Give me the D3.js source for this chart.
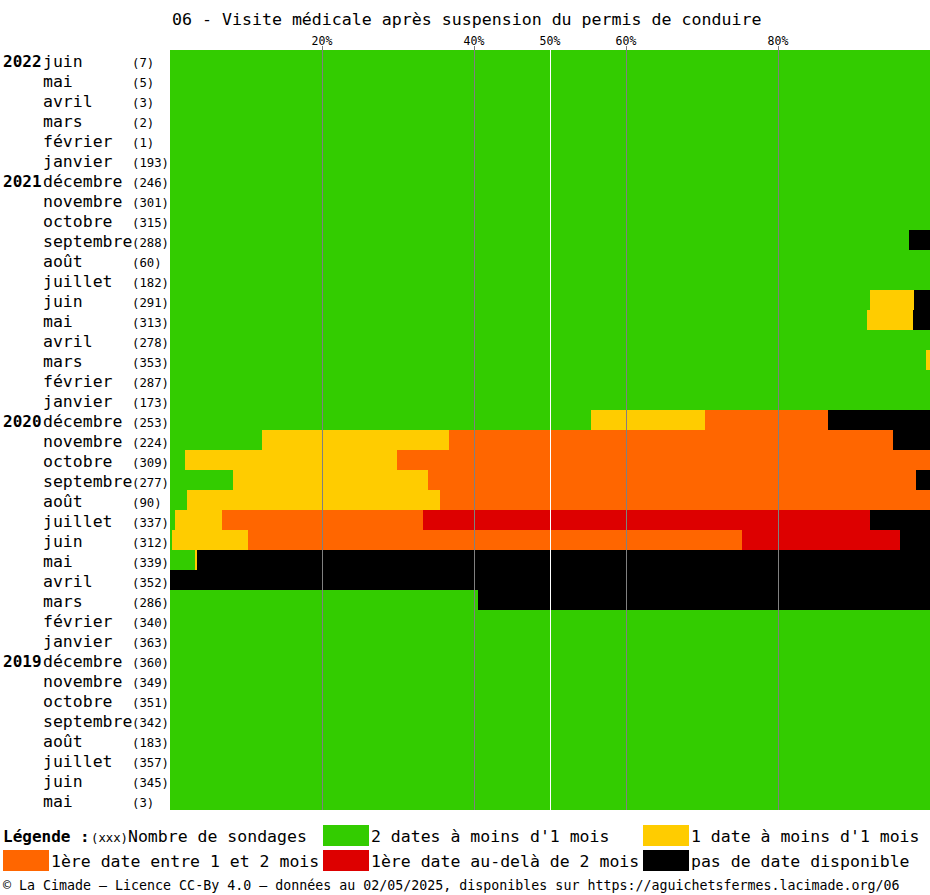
<!DOCTYPE html>
<html><head><meta charset="utf-8">
<script src="https://cdn.jsdelivr.net/npm/d3@7"></script>
<style>body{margin:0;background:#fff}svg{display:block}text{font-family:"DejaVu Sans Mono",monospace}</style>
</head><body>
<script>
const title = "06 - Visite médicale après suspension du permis de conduire";
const months = ["juin","mai","avril","mars","février","janvier",
  "décembre","novembre","octobre","septembre","août","juillet","juin","mai","avril","mars","février","janvier",
  "décembre","novembre","octobre","septembre","août","juillet","juin","mai","avril","mars","février","janvier",
  "décembre","novembre","octobre","septembre","août","juillet","juin","mai"];
const years = ["2022","","","","","","2021","","","","","","","","","","","","2020","","","","","","","","","","","","2019","","","","","","",""];
const counts = [7,5,3,2,1,193,246,301,315,288,60,182,291,313,278,353,287,173,253,224,309,277,90,337,312,339,352,286,340,363,360,349,351,342,183,357,345,3];
// percentages per category
const green  = [100,100,100,100,100,100,100,100,100,97.2,100,100,92.1,91.7,100,99.5,100,100,55.4,12.1,2.0,8.3,2.2,0.7,0.3,3.3,0,40.5,100,100,100,100,100,100,100,100,100,100];
const yellow = [0,0,0,0,0,0,0,0,0,0,0,0,5.8,6.1,0,0.5,0,0,15.0,24.6,27.9,25.7,33.3,6.2,10.0,0.3,0,0,0,0,0,0,0,0,0,0,0,0];
const orange = [0,0,0,0,0,0,0,0,0,0,0,0,0,0,0,0,0,0,16.2,58.4,70.1,64.2,64.5,26.4,65.0,0,0,0,0,0,0,0,0,0,0,0,0,0];
const red    = [0,0,0,0,0,0,0,0,0,0,0,0,0,0,0,0,0,0,0,0,0,0,0,58.8,20.8,0,0,0,0,0,0,0,0,0,0,0,0,0];
const black  = [0,0,0,0,0,0,0,0,0,2.8,0,0,2.1,2.2,0,0,0,0,13.4,4.9,0,1.8,0,7.9,3.9,96.4,100,59.5,0,0,0,0,0,0,0,0,0,0];
const ticks = [20,40,50,60,80];
const keys = ["green","yellow","orange","red","black"];
const colors = ["#33cc00","#ffcc00","#ff6600","#dd0000","#000000"];
const legendLabels = ["2 dates à moins d'1 mois","1 date à moins d'1 mois","1ère date entre 1 et 2 mois","1ère date au-delà de 2 mois","pas de date disponible"];
const footer = "© La Cimade — Licence CC-By 4.0 — données au 02/05/2025, disponibles sur https://aguichetsfermes.lacimade.org/06";

const W = 930, H = 895;
const svg = d3.select("body").append("svg").attr("width", W).attr("height", H);
const rows = months.map((m, i) => ({i, green: green[i], yellow: yellow[i], orange: orange[i], red: red[i], black: black[i]}));
const x = d3.scaleLinear().domain([0, 100]).range([170, 930]);
const y = d3.scaleBand().domain(d3.range(months.length)).range([50, 810]).padding(0);

svg.append("text").attr("x", 172).attr("y", 25).attr("font-size", 16.6).attr("fill", "#000").text(title);

const stack = d3.stack().keys(keys)(rows);
svg.append("g").selectAll("g").data(stack).join("g")
  .attr("fill", (d, k) => colors[k])
  .selectAll("rect").data(d => d).join("rect")
  .attr("x", d => x(d[0])).attr("y", (d, i) => y(i))
  .attr("width", d => Math.max(0, x(d[1]) - x(d[0]))).attr("height", y.bandwidth())
  .attr("shape-rendering", "crispEdges");

// grid lines
const g = svg.append("g");
g.selectAll("line").data(ticks).join("line")
  .attr("x1", d => Math.round(x(d)) + 0.5).attr("x2", d => Math.round(x(d)) + 0.5)
  .attr("y1", 46).attr("y2", 810)
  .attr("stroke", d => d === 50 ? "#ffffff" : "#808080").attr("stroke-width", 1);
g.selectAll("text").data(ticks).join("text")
  .attr("x", d => x(d)).attr("y", 45).attr("text-anchor", "middle")
  .attr("font-size", 11.5).text(d => d + "%");

// row labels
const lab = svg.append("g");
lab.selectAll("text.yr").data(years).join("text").attr("class", "yr")
  .attr("x", 3).attr("y", (d, i) => y(i) + 16.5).attr("font-size", 16).attr("font-weight", "bold").text(d => d);
lab.selectAll("text.mo").data(months).join("text").attr("class", "mo")
  .attr("x", 43).attr("y", (d, i) => y(i) + 16.5).attr("font-size", 16.5).text(d => d);
lab.selectAll("text.ct").data(counts).join("text").attr("class", "ct")
  .attr("x", 132).attr("y", (d, i) => y(i) + 16.5).attr("font-size", 12.3).text(d => "(" + d + ")");

// legend
const leg = svg.append("g");
leg.append("text").attr("x", 3).attr("y", 842).attr("font-size", 16).attr("font-weight", "bold").text("Légende :");
leg.append("text").attr("x", 91).attr("y", 842).attr("font-size", 12.3).text("(xxx)");
leg.append("text").attr("x", 128).attr("y", 842).attr("font-size", 16.5).text("Nombre de sondages");
const legPos = [[323, 825], [643, 825], [3, 850], [323, 850], [643, 850]];
keys.forEach((k, j) => {
  leg.append("rect").attr("x", legPos[j][0]).attr("y", legPos[j][1]).attr("width", 46).attr("height", 21).attr("fill", colors[j]);
  leg.append("text").attr("x", legPos[j][0] + 48).attr("y", legPos[j][1] + 17).attr("font-size", 16.5).text(legendLabels[j]);
});
svg.append("text").attr("x", 3).attr("y", 890).attr("font-size", 13.3).text(footer);
</script>
</body></html>
